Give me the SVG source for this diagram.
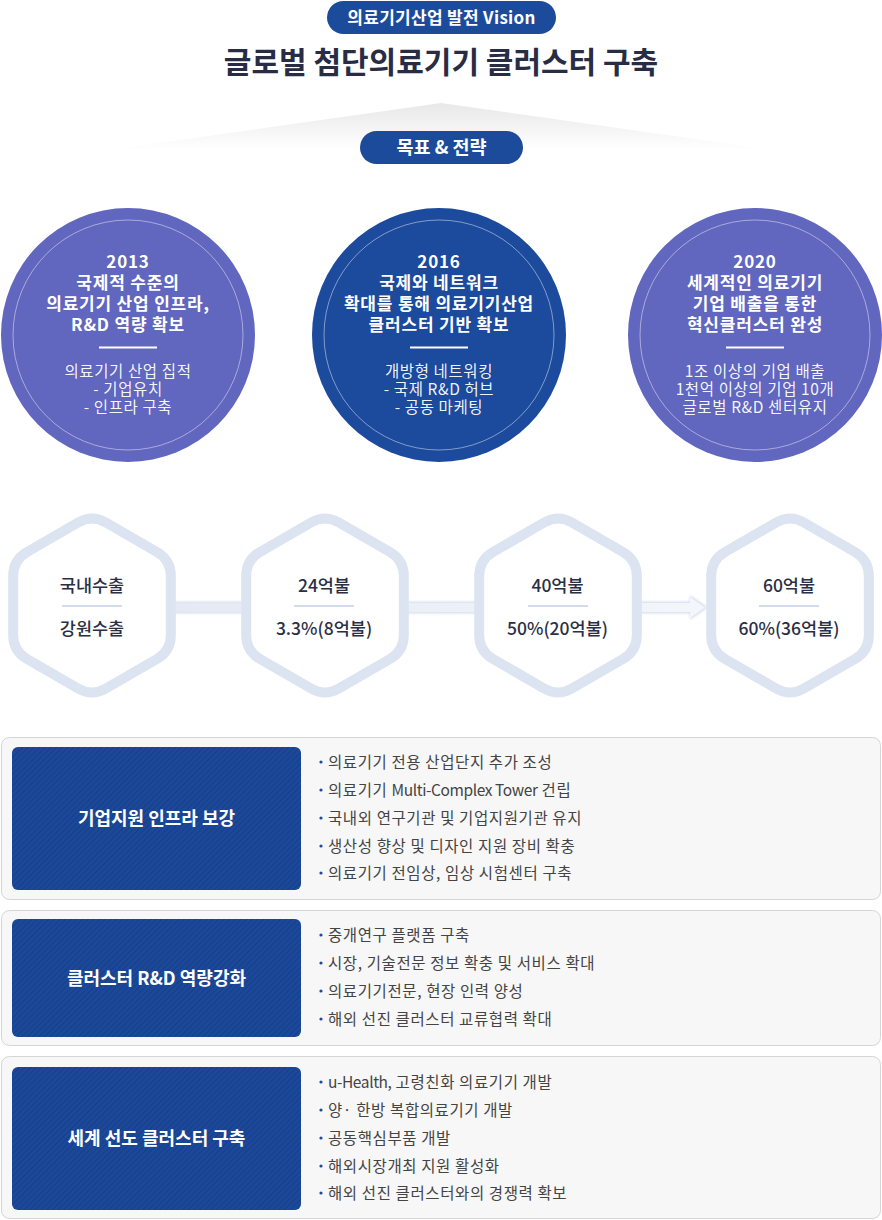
<svg xmlns="http://www.w3.org/2000/svg" width="882" height="1220" viewBox="0 0 882 1220">
<defs>
<style>
text{font-family:"Noto Sans CJK KR","Noto Sans",sans-serif}
.pt{fill:#fff;font-size:17px;font-weight:700;text-anchor:middle;letter-spacing:0.3px}
.pt2{fill:#fff;font-size:18.5px;font-weight:700;text-anchor:middle}
.title{fill:#282d45;font-size:30px;font-weight:700;text-anchor:middle}
.ct{fill:#fff;font-size:17px;font-weight:700;text-anchor:middle;letter-spacing:0.8px}
.cs{fill:#fff;font-size:15.5px;text-anchor:middle;fill-opacity:.95;letter-spacing:0.6px}
.ring{fill:none;stroke:#fff;stroke-opacity:.45;stroke-width:1}
.div{stroke:#fff;stroke-width:2}
.hx{fill:#fff;stroke:#dce4f1;stroke-width:10}
.ht{fill:#2a2f45;font-size:17.5px;font-weight:500;text-anchor:middle}
.hd{stroke:#d3dbea;stroke-width:2}
.sec{fill:#f7f7f7;stroke:#d5d5d5;stroke-width:1}
.blue{fill:url(#stripes)}
.lab{fill:#fff;font-size:18px;font-weight:700;text-anchor:middle}
.it{fill:#444;font-size:15.5px;letter-spacing:0.6px}
.dot{fill:#1c4a9c}
.pill{fill:#1d4b9b}
</style>
<linearGradient id="tri" x1="0" y1="0" x2="0" y2="1">
<stop offset="0" stop-color="#e8e8e8"/>
<stop offset="1" stop-color="#ffffff"/>
</linearGradient>
<linearGradient id="band" x1="0" y1="0" x2="1" y2="0">
<stop offset="0" stop-color="#e4e9f3"/>
<stop offset="1" stop-color="#f3f6fb"/>
</linearGradient>
<filter id="blur" x="-5%" y="-50%" width="110%" height="200%">
<feGaussianBlur stdDeviation="1.6"/>
</filter>
<pattern id="stripes" patternUnits="userSpaceOnUse" width="4" height="4" patternTransform="rotate(45)">
<rect width="4" height="4" fill="#1c489a"/>
<rect width="1" height="4" fill="#173f88"/>
</pattern>
<path id="hex" d="M -13.86,-83 Q 0,-91 13.86,-83 L 64.95,-53.5 Q 78.81,-45.5 78.81,-29.5 L 78.81,29.5 Q 78.81,45.5 64.95,53.5 L 13.86,83 Q 0,91 -13.86,83 L -64.95,53.5 Q -78.81,45.5 -78.81,29.5 L -78.81,-29.5 Q -78.81,-45.5 -64.95,-53.5 Z"/>
</defs>

<rect width="882" height="1220" fill="#fff"/>

<g id="header">
<polygon points="441,103 110,150 772,150" fill="url(#tri)"/>
<rect class="pill" x="327" y="1" width="229" height="33" rx="16.5"/>
<text class="pt" x="441.5" y="23.5">의료기기산업 발전 Vision</text>
<text class="title" x="441" y="73">글로벌 첨단의료기기 클러스터 구축</text>
<rect class="pill" x="360" y="131" width="163" height="33" rx="16.5"/>
<text class="pt2" x="441.5" y="154">목표 &amp; 전략</text>
</g>

<g id="goal-2013">
<circle cx="128" cy="335" r="127" fill="#6166be"/>
<circle class="ring" cx="128" cy="335" r="115"/>
<text class="ct" x="128" y="268">2013</text>
<text class="ct" x="128" y="289">국제적 수준의</text>
<text class="ct" x="128" y="310">의료기기 산업 인프라,</text>
<text class="ct" x="128" y="331">R&amp;D 역량 확보</text>
<line class="div" x1="99" y1="347.5" x2="157" y2="347.5"/>
<text class="cs" x="128" y="377">의료기기 산업 집적</text>
<text class="cs" x="128" y="395">- 기업유치</text>
<text class="cs" x="128" y="413">- 인프라 구축</text>
</g>

<g id="goal-2016">
<circle cx="439" cy="335" r="127" fill="#1c4a9c"/>
<circle class="ring" cx="439" cy="335" r="115"/>
<text class="ct" x="439" y="268">2016</text>
<text class="ct" x="439" y="289">국제와 네트워크</text>
<text class="ct" x="439" y="310">확대를 통해 의료기기산업</text>
<text class="ct" x="439" y="331">클러스터 기반 확보</text>
<line class="div" x1="410" y1="347.5" x2="468" y2="347.5"/>
<text class="cs" x="439" y="377">개방형 네트워킹</text>
<text class="cs" x="439" y="395">- 국제 R&amp;D 허브</text>
<text class="cs" x="439" y="413">- 공동 마케팅</text>
</g>

<g id="goal-2020">
<circle cx="755" cy="335" r="127" fill="#6166be"/>
<circle class="ring" cx="755" cy="335" r="115"/>
<text class="ct" x="755" y="268">2020</text>
<text class="ct" x="755" y="289">세계적인 의료기기</text>
<text class="ct" x="755" y="310">기업 배출을 통한</text>
<text class="ct" x="755" y="331">혁신클러스터 완성</text>
<line class="div" x1="726" y1="347.5" x2="784" y2="347.5"/>
<text class="cs" x="755" y="377">1조 이상의 기업 배출</text>
<text class="cs" x="755" y="395">1천억 이상의 기업 10개</text>
<text class="cs" x="755" y="413">글로벌 R&amp;D 센터유지</text>
</g>

<g id="connectors">
<path d="M 168 602 L 690 602 L 690 595.5 L 707 607.5 L 690 619.5 L 690 613 L 168 613 Z" fill="#cdd7ea" filter="url(#blur)"/>
<path d="M 168 603 L 690 603 L 690 597 L 705 607.5 L 690 618 L 690 612 L 168 612 Z" fill="url(#band)"/>
</g>

<g id="hex-1">
<use href="#hex" class="hx" transform="translate(92,605.5)"/>
<text class="ht" x="92" y="591.5">국내수출</text>
<line class="hd" x1="62" y1="606" x2="122" y2="606"/>
<text class="ht" x="92" y="634.5">강원수출</text>
</g>
<g id="hex-2">
<use href="#hex" class="hx" transform="translate(325,605.5)"/>
<text class="ht" x="324" y="591.5">24억불</text>
<line class="hd" x1="294" y1="606" x2="354" y2="606"/>
<text class="ht" x="324" y="634.5">3.3%(8억불)</text>
</g>
<g id="hex-3">
<use href="#hex" class="hx" transform="translate(558,605.5)"/>
<text class="ht" x="557.5" y="591.5">40억불</text>
<line class="hd" x1="528" y1="606" x2="588" y2="606"/>
<text class="ht" x="557.5" y="634.5">50%(20억불)</text>
</g>
<g id="hex-4">
<use href="#hex" class="hx" transform="translate(790,605.5)"/>
<text class="ht" x="789" y="591.5">60억불</text>
<line class="hd" x1="759" y1="606" x2="819" y2="606"/>
<text class="ht" x="789" y="634.5">60%(36억불)</text>
</g>

<g id="strategy-1">
<rect class="sec" x="1.5" y="737.5" width="879" height="162" rx="8"/>
<rect class="blue" x="12" y="747" width="289" height="143" rx="6"/>
<text class="lab" x="156.5" y="824.5">기업지원 인프라 보강</text>
<circle class="dot" cx="321" cy="762" r="1.6"/>
<text class="it" x="328" y="768">의료기기 전용 산업단지 추가 조성</text>
<circle class="dot" cx="321" cy="790" r="1.6"/>
<text class="it" x="328" y="796">의료기기 <tspan letter-spacing="-0.4">Multi-Complex Tower</tspan> 건립</text>
<circle class="dot" cx="321" cy="818" r="1.6"/>
<text class="it" x="328" y="824">국내외 연구기관 및 기업지원기관 유지</text>
<circle class="dot" cx="321" cy="846" r="1.6"/>
<text class="it" x="328" y="852">생산성 향상 및 디자인 지원 장비 확충</text>
<circle class="dot" cx="321" cy="873" r="1.6"/>
<text class="it" x="328" y="879">의료기기 전임상, 임상 시험센터 구축</text>
</g>

<g id="strategy-2">
<rect class="sec" x="1.5" y="910.5" width="879" height="135" rx="8"/>
<rect class="blue" x="12" y="919" width="289" height="118" rx="6"/>
<text class="lab" x="156.5" y="984.5">클러스터 R&amp;D 역량강화</text>
<circle class="dot" cx="321" cy="935" r="1.6"/>
<text class="it" x="328" y="941">중개연구 플랫폼 구축</text>
<circle class="dot" cx="321" cy="963" r="1.6"/>
<text class="it" x="328" y="969">시장, 기술전문 정보 확충 및 서비스 확대</text>
<circle class="dot" cx="321" cy="991" r="1.6"/>
<text class="it" x="328" y="997">의료기기전문, 현장 인력 양성</text>
<circle class="dot" cx="321" cy="1019" r="1.6"/>
<text class="it" x="328" y="1025">해외 선진 클러스터 교류협력 확대</text>
</g>

<g id="strategy-3">
<rect class="sec" x="1.5" y="1056.5" width="879" height="162" rx="8"/>
<rect class="blue" x="12" y="1067" width="289" height="143" rx="6"/>
<text class="lab" x="156.5" y="1144.5">세계 선도 클러스터 구축</text>
<circle class="dot" cx="321" cy="1082" r="1.6"/>
<text class="it" x="328" y="1088"><tspan letter-spacing="-0.4">u-Health,</tspan> 고령친화 의료기기 개발</text>
<circle class="dot" cx="321" cy="1110" r="1.6"/>
<text class="it" x="328" y="1116">양· 한방 복합의료기기 개발</text>
<circle class="dot" cx="321" cy="1138" r="1.6"/>
<text class="it" x="328" y="1144">공동핵심부품 개발</text>
<circle class="dot" cx="321" cy="1166" r="1.6"/>
<text class="it" x="328" y="1172">해외시장개최 지원 활성화</text>
<circle class="dot" cx="321" cy="1193" r="1.6"/>
<text class="it" x="328" y="1199">해외 선진 클러스터와의 경쟁력 확보</text>
</g>
</svg>
